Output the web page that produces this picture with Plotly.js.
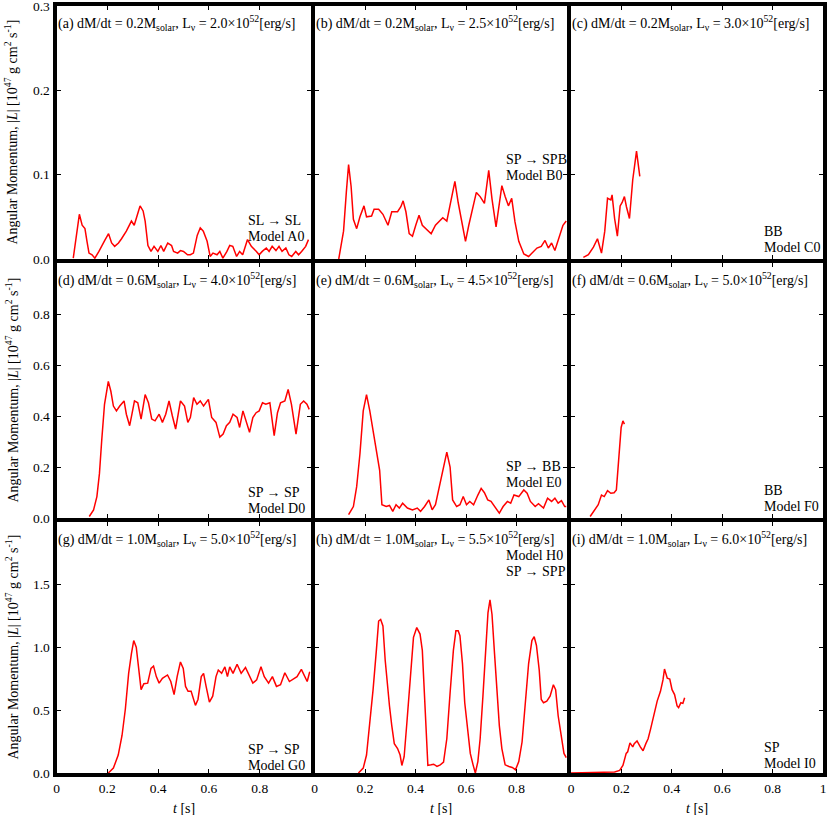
<!DOCTYPE html>
<html>
<head>
<meta charset="utf-8">
<script src="https://cdn.plot.ly/plotly-3.0.1.min.js"></script>
<style>
  body { margin: 0; background: white; }
  #div_plot { width: 831px; height: 815px; }
</style>
</head>
<body>
<div id="div_plot"></div>
<script>
// time [s] and |L| [1e47 g cm^2 s^-1], one pair per model
var tA = [0.066,0.090,0.101,0.112,0.120,0.128,0.140,0.151,0.167,0.178,0.190,0.205,0.217,0.229,0.244,0.256,0.275,0.295,0.306,0.322,0.329,0.341,0.349,0.360,0.372,0.384,0.399,0.411,0.422,0.438,0.453,0.461,0.477,0.488,0.500,0.516,0.527,0.539,0.554,0.566,0.578,0.593,0.605,0.616,0.632,0.643,0.655,0.671,0.682,0.694,0.709,0.721,0.733,0.752,0.767,0.787,0.798,0.810,0.826,0.837,0.849,0.864,0.876,0.888,0.903,0.915,0.926,0.942,0.953,0.965,0.981,0.992];
var lA = [0.001,0.053,0.040,0.036,0.021,0.007,0.005,0.001,0.009,0.016,0.022,0.030,0.019,0.015,0.019,0.024,0.033,0.045,0.040,0.056,0.063,0.057,0.045,0.016,0.009,0.015,0.009,0.016,0.009,0.019,0.016,0.009,0.007,0.010,0.009,0.005,0.005,0.007,0.028,0.037,0.033,0.021,0.003,0.007,0.005,0.009,0.001,0.009,0.016,0.015,0.003,0.009,0.005,0.023,0.015,0.009,0.005,0.009,0.013,0.009,0.015,0.010,0.015,0.009,0.013,0.005,0.003,0.009,0.005,0.009,0.015,0.023];

var tB = [0.096,0.115,0.126,0.135,0.145,0.154,0.167,0.180,0.196,0.206,0.226,0.236,0.254,0.271,0.291,0.306,0.329,0.342,0.351,0.362,0.375,0.388,0.401,0.414,0.427,0.446,0.462,0.479,0.492,0.508,0.524,0.543,0.556,0.569,0.585,0.598,0.611,0.628,0.641,0.656,0.673,0.690,0.703,0.719,0.732,0.742,0.755,0.768,0.781,0.794,0.809,0.829,0.848,0.868,0.881,0.898,0.913,0.926,0.939,0.952,0.968,0.984,0.997];
var lB = [0.000,0.033,0.079,0.112,0.086,0.047,0.036,0.050,0.063,0.050,0.051,0.059,0.059,0.053,0.040,0.056,0.056,0.062,0.069,0.056,0.030,0.027,0.040,0.052,0.040,0.034,0.030,0.040,0.044,0.049,0.045,0.071,0.092,0.067,0.040,0.021,0.040,0.063,0.079,0.074,0.066,0.105,0.071,0.038,0.063,0.087,0.074,0.063,0.072,0.044,0.021,0.006,0.003,0.009,0.013,0.015,0.022,0.013,0.019,0.010,0.024,0.040,0.045];

var tC = [0.049,0.069,0.089,0.105,0.121,0.134,0.145,0.158,0.163,0.173,0.184,0.195,0.203,0.212,0.220,0.232,0.245,0.260,0.273];
var lC = [0.002,0.005,0.014,0.024,0.007,0.033,0.072,0.070,0.076,0.048,0.027,0.063,0.067,0.074,0.062,0.048,0.094,0.128,0.098];

var tD = [0.129,0.146,0.159,0.169,0.178,0.189,0.204,0.214,0.224,0.236,0.249,0.266,0.275,0.288,0.297,0.307,0.320,0.333,0.349,0.362,0.375,0.388,0.404,0.417,0.430,0.443,0.456,0.469,0.488,0.504,0.517,0.527,0.540,0.553,0.566,0.579,0.598,0.611,0.628,0.643,0.656,0.669,0.682,0.695,0.711,0.721,0.734,0.747,0.760,0.773,0.786,0.798,0.811,0.824,0.840,0.857,0.870,0.882,0.899,0.912,0.925,0.943,0.960,0.973,0.986,0.995];
var lD = [0.006,0.032,0.084,0.174,0.304,0.446,0.536,0.497,0.439,0.420,0.439,0.459,0.407,0.362,0.407,0.459,0.452,0.388,0.484,0.452,0.388,0.381,0.407,0.375,0.407,0.459,0.401,0.349,0.459,0.439,0.375,0.394,0.472,0.446,0.459,0.439,0.465,0.394,0.375,0.317,0.329,0.362,0.375,0.407,0.394,0.355,0.420,0.375,0.336,0.394,0.413,0.420,0.452,0.446,0.452,0.323,0.413,0.452,0.459,0.504,0.446,0.329,0.446,0.459,0.446,0.426];

var tE = [0.135,0.154,0.167,0.180,0.193,0.206,0.219,0.232,0.245,0.258,0.267,0.284,0.297,0.310,0.323,0.336,0.349,0.368,0.388,0.407,0.420,0.436,0.453,0.466,0.479,0.495,0.511,0.524,0.537,0.547,0.563,0.576,0.589,0.602,0.615,0.630,0.647,0.660,0.673,0.686,0.699,0.716,0.732,0.747,0.764,0.777,0.790,0.809,0.829,0.842,0.855,0.874,0.887,0.907,0.923,0.939,0.952,0.965,0.978,0.991,0.997];
var lE = [0.013,0.045,0.123,0.252,0.420,0.484,0.420,0.342,0.252,0.187,0.052,0.045,0.049,0.026,0.052,0.039,0.058,0.039,0.032,0.039,0.026,0.045,0.071,0.032,0.052,0.123,0.200,0.258,0.200,0.071,0.045,0.052,0.084,0.052,0.065,0.052,0.090,0.116,0.099,0.071,0.065,0.039,0.019,0.045,0.065,0.058,0.090,0.084,0.110,0.097,0.065,0.045,0.056,0.039,0.078,0.065,0.078,0.058,0.068,0.045,0.045];

var tF = [0.076,0.095,0.108,0.121,0.132,0.145,0.158,0.171,0.180,0.189,0.199,0.206,0.212];
var lF = [0.006,0.032,0.052,0.090,0.084,0.107,0.097,0.099,0.110,0.226,0.355,0.381,0.368];

var tG = [0.204,0.224,0.243,0.258,0.271,0.284,0.295,0.304,0.314,0.324,0.333,0.344,0.359,0.372,0.382,0.393,0.404,0.417,0.437,0.450,0.463,0.475,0.488,0.499,0.508,0.518,0.530,0.547,0.557,0.570,0.579,0.589,0.602,0.615,0.628,0.637,0.650,0.663,0.673,0.682,0.695,0.711,0.727,0.744,0.757,0.773,0.788,0.805,0.818,0.835,0.850,0.866,0.882,0.899,0.917,0.934,0.947,0.964,0.977,0.987,0.997];
var lG = [0.000,0.039,0.143,0.299,0.508,0.794,0.951,1.055,1.003,0.846,0.664,0.711,0.716,0.833,0.852,0.768,0.716,0.755,0.781,0.729,0.625,0.768,0.885,0.833,0.690,0.651,0.651,0.539,0.586,0.768,0.794,0.690,0.565,0.612,0.768,0.820,0.794,0.846,0.768,0.846,0.794,0.867,0.794,0.841,0.781,0.716,0.742,0.846,0.768,0.716,0.768,0.690,0.703,0.799,0.729,0.755,0.768,0.826,0.768,0.729,0.807];

var tH = [0.174,0.193,0.206,0.219,0.232,0.245,0.254,0.262,0.271,0.280,0.291,0.297,0.306,0.316,0.329,0.339,0.346,0.355,0.366,0.379,0.392,0.405,0.418,0.427,0.436,0.444,0.449,0.462,0.472,0.485,0.498,0.511,0.524,0.537,0.550,0.560,0.569,0.576,0.586,0.595,0.608,0.617,0.628,0.637,0.647,0.656,0.667,0.680,0.687,0.695,0.703,0.713,0.722,0.732,0.742,0.755,0.770,0.783,0.796,0.809,0.822,0.835,0.848,0.861,0.870,0.879,0.890,0.898,0.907,0.920,0.933,0.946,0.955,0.965,0.978,0.988,0.997];
var lH = [0.000,0.039,0.143,0.378,0.664,0.977,1.211,1.224,1.172,0.898,0.612,0.534,0.378,0.234,0.195,0.143,0.060,0.130,0.404,0.768,1.081,1.159,1.107,0.977,0.638,0.247,0.060,0.065,0.070,0.052,0.065,0.086,0.273,0.638,0.977,1.133,1.133,1.094,0.872,0.560,0.299,0.156,0.065,0.000,0.091,0.273,0.612,1.081,1.276,1.380,1.263,0.951,0.638,0.378,0.195,0.065,0.052,0.044,0.026,0.091,0.247,0.560,0.872,1.055,1.086,1.016,0.820,0.586,0.560,0.573,0.612,0.703,0.664,0.456,0.273,0.156,0.122];

var tI = [0.000,0.173,0.193,0.206,0.219,0.225,0.234,0.245,0.251,0.262,0.275,0.286,0.297,0.306,0.316,0.329,0.342,0.355,0.365,0.371,0.382,0.392,0.401,0.411,0.421,0.427,0.436,0.444,0.451];
var lI = [0.000,0.008,0.021,0.060,0.156,0.169,0.240,0.208,0.234,0.255,0.208,0.177,0.234,0.273,0.352,0.456,0.573,0.651,0.742,0.828,0.755,0.748,0.664,0.625,0.534,0.521,0.560,0.555,0.599];

var panel_t = [tA, tB, tC, tD, tE, tF, tG, tH, tI];
var panel_l = [lA, lB, lC, lD, lE, lF, lG, lH, lI];
var letters = ['a','b','c','d','e','f','g','h','i'];
var mdot = ['0.2','0.2','0.2','0.6','0.6','0.6','1.0','1.0','1.0'];
var lnu = ['2.0','2.5','3.0','4.0','4.5','5.0','5.0','5.5','6.0'];
var models = [['SL → SL', 'Model A0'], ['SP → SPB', 'Model B0'], ['BB', 'Model C0'],
              ['SP → SP', 'Model D0'], ['SP → BB', 'Model E0'], ['BB', 'Model F0'],
              ['SP → SP', 'Model G0'], ['Model H0', 'SP → SPP'], ['SP', 'Model I0']];

var row_max = [0.3, 1.0, 2.0];
var row_ticks = [[0, 0.1, 0.2, 0.3], [0, 0.2, 0.4, 0.6, 0.8], [0, 0.5, 1.0, 1.5]];
var row_ticktext = [['0.0','0.1','0.2','0.3'], ['0.0','0.2','0.4','0.6','0.8'], ['0.0','0.5','1.0','1.5']];
var t_ticks = [[0, 0.2, 0.4, 0.6, 0.8], [0, 0.2, 0.4, 0.6, 0.8], [0, 0.2, 0.4, 0.6, 0.8, 1.0]];
var t_ticktext = [['0','0.2','0.4','0.6','0.8'], ['0','0.2','0.4','0.6','0.8'], ['0','0.2','0.4','0.6','0.8','1']];

function init_graph(){
   var W = 831, H = 815, LW = 4;
   var col_edges = [54.5, 312.5, 569, 825];
   var row_edges = [4, 261, 520, 775];
   // pixel spots of the model labels (left edge per column, block centre per panel)
   var model_x = [248, 506, 764];
   var model_py = [228.5, 167.5, 239.5, 500.5, 474.5, 498.5, 757.5, 563, 755.5];
   var serif = 'Liberation Serif, Times New Roman, serif';

   var data = [];
   var annotations = [];
   var layout = {
      width: W,
      height: H,
      showlegend: false,
      paper_bgcolor: 'white',
      plot_bgcolor: 'white',
      margin: {l: 0, r: 0, t: 0, b: 0},
      font: {family: serif, size: 14, color: 'black'}
   };

   for(var k = 0 ; k < 9 ; k++){
      var row = Math.floor(k / 3);
      var col = k % 3;
      var sfx = (k == 0) ? '' : String(k + 1);
      var xname = 'x' + sfx, yname = 'y' + sfx;

      data.push({
         x: panel_t[k],
         y: panel_l[k],
         xaxis: xname,
         yaxis: yname,
         mode: 'lines',
         type: 'scatter',
         line: {color: '#ff0000', width: 1.5},
         hoverinfo: 'skip'
      });

      var x0 = (col_edges[col] + LW/2) / W;
      var x1 = (col_edges[col + 1] - LW/2) / W;
      var y0 = 1 - (row_edges[row + 1] - LW/2) / H;
      var y1 = 1 - (row_edges[row] + LW/2) / H;

      layout['xaxis' + sfx] = {
         domain: [x0, x1],
         anchor: yname,
         range: [0, 1],
         showgrid: false,
         zeroline: false,
         showline: true,
         linewidth: LW,
         linecolor: 'black',
         mirror: 'ticks',
         ticks: 'inside',
         ticklen: 4,
         tickwidth: 1,
         tickcolor: 'black',
         tickmode: 'array',
         tickvals: t_ticks[col],
         ticktext: t_ticktext[col],
         showticklabels: row == 2,
         tickfont: {family: serif, size: 13.5, color: 'black'}
      };
      layout['yaxis' + sfx] = {
         domain: [y0, y1],
         anchor: xname,
         range: [0, row_max[row]],
         showgrid: false,
         zeroline: false,
         showline: true,
         linewidth: LW,
         linecolor: 'black',
         mirror: 'ticks',
         ticks: 'inside',
         ticklen: 4,
         tickwidth: 1,
         tickcolor: 'black',
         tickmode: 'array',
         tickvals: row_ticks[row],
         ticktext: row_ticktext[row],
         showticklabels: col == 0,
         ticklabeloverflow: 'allow',
         tickfont: {family: serif, size: 13.5, color: 'black'}
      };

      annotations.push({
         xref: xname + ' domain', yref: yname + ' domain',
         x: 0, y: 1, xshift: -1, yshift: -5,
         xanchor: 'left', yanchor: 'top',
         showarrow: false,
         text: '(' + letters[k] + ') dM/dt = ' + mdot[k] + 'M<sub>solar</sub>, L<sub>ν</sub> = ' + lnu[k] + '×10<sup>52</sup>[erg/s]',
         font: {family: serif, size: 14, color: 'black'}
      });
      // two tight lines: the base size sets the line step, spans carry the real size
      annotations.push({
         xref: 'paper', yref: 'paper',
         x: (model_x[col] - 2) / W, y: 1 - model_py[k] / H,
         xanchor: 'left', yanchor: 'middle', align: 'left',
         showarrow: false,
         text: '<span style="font-size:14px">' + models[k][0] + '</span><br>' +
               '<span style="font-size:14px">' + models[k][1] + '</span>',
         font: {family: serif, size: 12, color: 'black'}
      });
   }

   // row titles and column titles
   for(var r = 0 ; r < 3 ; r++){
      annotations.push({
         xref: 'paper', yref: 'paper',
         x: 12 / W, y: 1 - (row_edges[r] + row_edges[r + 1]) / 2 / H,
         xanchor: 'center', yanchor: 'middle',
         textangle: -90,
         showarrow: false,
         text: 'Angular Momentum, |<i>L</i>| [10<sup>47</sup> g cm<sup>2</sup> s<sup>-1</sup>]',
         font: {family: serif, size: 14, color: 'black'}
      });
   }
   for(var c = 0 ; c < 3 ; c++){
      annotations.push({
         xref: 'paper', yref: 'paper',
         x: (col_edges[c] + col_edges[c + 1]) / 2 / W, y: 1 - 808 / H,
         xanchor: 'center', yanchor: 'middle',
         showarrow: false,
         text: '<i>t</i> [s]',
         font: {family: serif, size: 14, color: 'black'}
      });
   }
   layout.annotations = annotations;

   var config = {
      responsive: false,
      displayModeBar: false,
      staticPlot: true
   };

   Plotly.newPlot('div_plot', data, layout, config);
}

init_graph();
</script>
</body>
</html>
